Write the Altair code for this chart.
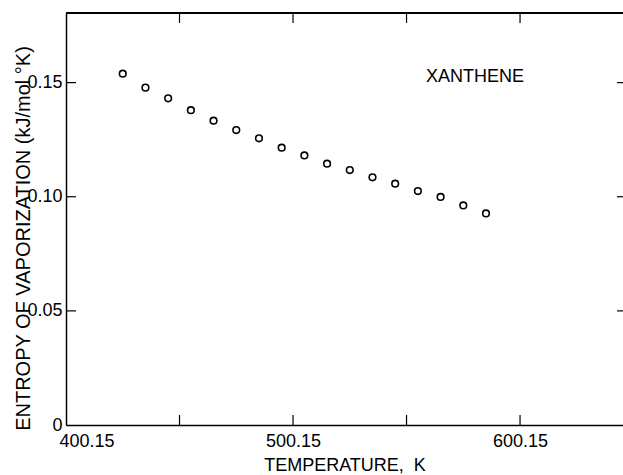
import altair as alt
import pandas as pd

# ---- data ----
temperature_K = [425.15, 435.15, 445.15, 455.15, 465.15, 475.15, 485.15, 495.15, 505.15,
                 515.15, 525.15, 535.15, 545.15, 555.15, 565.15, 575.15, 585.15]
entropy = [0.1539, 0.1478, 0.1431, 0.1379, 0.1333, 0.1292, 0.1256, 0.1215, 0.1181,
           0.1145, 0.1117, 0.1085, 0.1057, 0.1025, 0.0999, 0.0962, 0.0927]
x_label_values = [400.15, 500.15, 600.15]
x_minor_ticks = [450.15, 500.15, 550.15, 600.15]
y_label_values = [0, 0.05, 0.10, 0.15]
y_ticks = [0.05, 0.10, 0.15]
annotation = ["XANTHENE"]
annotation_T = [580.3]
annotation_S = [0.1524]

FONT = "Liberation Sans"
W, H = 557, 412

df = pd.DataFrame({"T": temperature_K, "S": entropy})
xt = pd.DataFrame({"T": x_minor_ticks})
yt = pd.DataFrame({"S": y_ticks})
ann = pd.DataFrame({"T": annotation_T, "S": annotation_S, "label": annotation})

x_scale = alt.Scale(domain=[400.15, 645.5], nice=False, zero=False)
y_scale = alt.Scale(domain=[0, 0.1805], nice=False, zero=False)

points = alt.Chart(df).mark_point(
    shape="circle", filled=False, color="black", size=44, strokeWidth=1.6, opacity=1
).encode(
    x=alt.X("T:Q", scale=x_scale, axis=alt.Axis(
        values=x_label_values, format=".2f", ticks=False, grid=False,
        domainColor="black", domainWidth=1.5, labelFlush=True, labelFlushOffset=7,
        labelFont=FONT, labelFontSize=18, labelColor="black", labelPadding=7,
        title="TEMPERATURE,\u00a0 K", titleFont=FONT, titleFontSize=18,
        titleFontWeight="normal", titleColor="black", titleBaseline="top",
        titleY=31, titleX=W / 2, titleAnchor="middle")),
    y=alt.Y("S:Q", scale=y_scale, axis=alt.Axis(
        values=y_label_values,
        labelExpr="datum.value == 0 ? '0' : format(datum.value, '.2f')",
        ticks=False, grid=False, domainColor="black", domainWidth=1.5,
        labelFont=FONT, labelFontSize=18, labelColor="black", labelPadding=4,
        title="ENTROPY OF VAPORIZATION (kJ/mol °K)", titleFont=FONT,
        titleFontSize=20, titleFontWeight="normal", titleColor="black",
        titleAngle=270, titleAlign="center", titleBaseline="middle",
        titleX=-43, titleY=225)),
)

rule_style = dict(color="black", strokeWidth=1.2)
bottom_ticks = alt.Chart(xt).mark_rule(**rule_style).encode(
    x="T:Q", y=alt.value(H), y2=alt.value(H - 10))
top_ticks = alt.Chart(xt).mark_rule(**rule_style).encode(
    x="T:Q", y=alt.value(0), y2=alt.value(10))
left_ticks = alt.Chart(yt).mark_rule(**rule_style).encode(
    y="S:Q", x=alt.value(0), x2=alt.value(10))
right_ticks = alt.Chart(yt).mark_rule(**rule_style).encode(
    y="S:Q", x=alt.value(W - 6), x2=alt.value(W))
top_line = alt.Chart(xt).mark_rule(color="black", strokeWidth=1.5).encode(
    x=alt.value(0), x2=alt.value(W), y=alt.value(0))

label = alt.Chart(ann).mark_text(
    font=FONT, fontSize=18, color="black", align="center", baseline="middle"
).encode(x="T:Q", y="S:Q", text="label:N")

chart = alt.layer(points, bottom_ticks, top_ticks, left_ticks, right_ticks, top_line, label).properties(
    width=W, height=H,
    padding={"left": 66, "top": 13, "right": 0, "bottom": 50},
    autosize=alt.AutoSizeParams(type="none"),
).configure_view(stroke=None).configure(background="white")

chart.save("out.html", embed_options={"renderer": "svg", "actions": False})
